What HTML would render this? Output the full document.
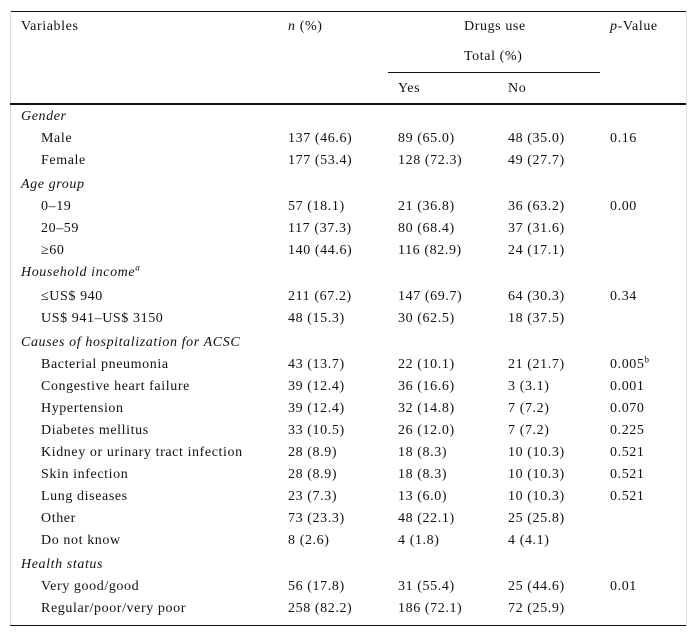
<!DOCTYPE html>
<html><head><meta charset="utf-8"><style>
body{margin:0;width:697px;height:637px;background:#fff;position:relative;font-family:"Liberation Serif",serif;font-size:14px;letter-spacing:0.6px;color:#111;overflow:hidden}
.r{position:absolute;left:0;width:697px;height:18px;line-height:18px}
.r span{position:absolute;white-space:nowrap}
.c0{left:21px}.c0i{left:41px}.c1{left:288px}.c2{left:398px}.c3{left:508px}.c4{left:610px}
.hl{position:absolute;background:#111}
i{font-style:italic}
sup{font-size:9px;line-height:0}
</style></head><body>
<div class="hl" style="left:10px;top:11px;width:676px;height:1px"></div>
<div class="hl" style="left:10px;top:11px;width:1px;height:615px;background:#ddd"></div>
<div class="hl" style="left:686px;top:11px;width:1px;height:615px;background:#ddd"></div>
<div class="hl" style="left:388px;top:72px;width:212px;height:1px"></div>
<div class="hl" style="left:10px;top:103px;width:676px;height:2px"></div>
<div class="hl" style="left:10px;top:625px;width:676px;height:1px"></div>

<div class="r" style="top:18px"><span class="c0">Variables</span><span class="c1"><i>n</i> (%)</span><span style="left:464px">Drugs use</span><span class="c4"><i>p</i>-Value</span></div>
<div class="r" style="top:48px"><span style="left:464px">Total (%)</span></div>
<div class="r" style="top:80px"><span class="c2">Yes</span><span class="c3">No</span></div>

<div id="body"></div>
<script>
const rows=[
["g","Gender",117],
["Male","137 (46.6)","89 (65.0)","48 (35.0)","0.16",139],
["Female","177 (53.4)","128 (72.3)","49 (27.7)","",161],
["g","Age group",185],
["0–19","57 (18.1)","21 (36.8)","36 (63.2)","0.00",207],
["20–59","117 (37.3)","80 (68.4)","37 (31.6)","",229],
["≥60","140 (44.6)","116 (82.9)","24 (17.1)","",251],
["g","Household income<sup>a</sup>",273],
["≤US$ 940","211 (67.2)","147 (69.7)","64 (30.3)","0.34",297],
["US$ 941–US$ 3150","48 (15.3)","30 (62.5)","18 (37.5)","",319],
["g","Causes of hospitalization for ACSC",343],
["Bacterial pneumonia","43 (13.7)","22 (10.1)","21 (21.7)","0.005<sup>b</sup>",365],
["Congestive heart failure","39 (12.4)","36 (16.6)","3 (3.1)","0.001",387],
["Hypertension","39 (12.4)","32 (14.8)","7 (7.2)","0.070",409],
["Diabetes mellitus","33 (10.5)","26 (12.0)","7 (7.2)","0.225",431],
["Kidney or urinary tract infection","28 (8.9)","18 (8.3)","10 (10.3)","0.521",453],
["Skin infection","28 (8.9)","18 (8.3)","10 (10.3)","0.521",475],
["Lung diseases","23 (7.3)","13 (6.0)","10 (10.3)","0.521",497],
["Other","73 (23.3)","48 (22.1)","25 (25.8)","",519],
["Do not know","8 (2.6)","4 (1.8)","4 (4.1)","",541],
["g","Health status",565],
["Very good/good","56 (17.8)","31 (55.4)","25 (44.6)","0.01",587],
["Regular/poor/very poor","258 (82.2)","186 (72.1)","72 (25.9)","",609]
];
const b=document.getElementById('body');
rows.forEach(r=>{
 const d=document.createElement('div');d.className='r';
 if(r[0]==='g'){
  
  
  d.style.top=(r[2]-9)+'px';
  d.innerHTML='<span class="c0"><i>'+r[1]+'</i></span>';
 }else{
  
  
  d.style.top=(r[5]-9)+'px';
  d.innerHTML='<span class="c0i">'+r[0]+'</span><span class="c1">'+r[1]+'</span><span class="c2">'+r[2]+'</span><span class="c3">'+r[3]+'</span><span class="c4">'+r[4]+'</span>';
 }
 b.appendChild(d);
});
</script>
</body></html>
